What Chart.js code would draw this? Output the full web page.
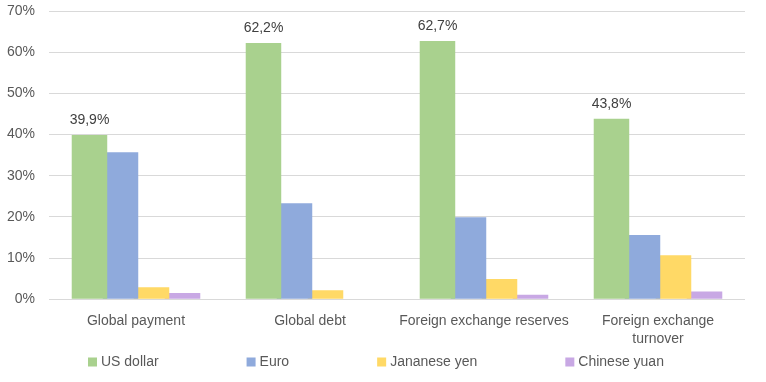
<!DOCTYPE html>
<html><head><meta charset="utf-8">
<script src="https://cdn.jsdelivr.net/npm/chart.js@4/dist/chart.umd.min.js"></script>
<style>html,body{margin:0;padding:0;background:#fff}#wrap{width:766px;height:382px}</style>
</head><body><div id="wrap"><canvas id="c" width="766" height="382"></canvas></div>
<script>
const categories = ["Global payment", "Global debt", "Foreign exchange reserves", ["Foreign exchange", "turnover"]];
const seriesNames = ["US dollar", "Euro", "Jananese yen", "Chinese yuan"];
const usDollar = [39.9, 62.2, 62.7, 43.8];
const euro = [35.7, 23.3, 19.9, 15.6];
const yen = [2.9, 2.2, 4.9, 10.7];
const yuan = [1.5, 0, 1.1, 1.9];
const colors = ["#A9D18E", "#8FAADC", "#FFD966", "#C8A8E4"];
const yTicks = [0, 10, 20, 30, 40, 50, 60, 70];

const FONT = "'Liberation Sans', Arial, sans-serif";
const TXT = "#595959";

const dataLabelPlugin = {
  id: 'dataLabels',
  afterDatasetsDraw(chart) {
    const ctx = chart.ctx;
    const meta = chart.getDatasetMeta(0);
    ctx.save();
    ctx.font = "14px " + FONT;
    ctx.fillStyle = "#404040";
    ctx.textAlign = "center";
    ctx.textBaseline = "middle";
    meta.data.forEach((bar, i) => {
      const v = chart.data.datasets[0].data[i];
      ctx.fillText(v.toFixed(1).replace('.', ',') + '%', bar.x, bar.y - 15);
    });
    ctx.restore();
  }
};

const legendPlugin = {
  id: 'customLegend',
  afterDraw(chart) {
    const ctx = chart.ctx;
    ctx.save();
    ctx.font = "14px " + FONT;
    ctx.textBaseline = "middle";
    let x = 88;
    const y = 362;
    chart.data.datasets.forEach(ds => {
      ctx.fillStyle = ds.backgroundColor;
      ctx.fillRect(x, y - 4.5, 9, 9);
      ctx.fillStyle = TXT;
      ctx.textAlign = "left";
      ctx.fillText(ds.label, x + 13, y);
      x += 13 + ctx.measureText(ds.label).width + 88;
    });
    ctx.restore();
  }
};

const seriesData = [usDollar, euro, yen, yuan];
new Chart(document.getElementById('c'), {
  type: 'bar',
  data: {
    labels: categories,
    datasets: seriesNames.map((n, i) => ({
      label: n,
      data: seriesData[i],
      backgroundColor: colors[i],
      borderWidth: 0,
      barPercentage: 1.145,
      categoryPercentage: 0.713
    }))
  },
  options: {
    responsive: false,
    animation: false,
    layout: { padding: { left: 0, right: 21, top: 11, bottom: 21 } },
    plugins: { legend: { display: false }, tooltip: { enabled: false } },
    scales: {
      x: {
        grid: { display: false, drawTicks: false },
        border: { display: false },
        afterFit(scale) { scale.paddingLeft = 0; scale.paddingRight = 0; },
        ticks: { color: TXT, font: { family: FONT, size: 14, lineHeight: 1.35 }, padding: 12, maxRotation: 0 }
      },
      y: {
        min: 0, max: 70,
        afterFit(scale) { scale.width = 49; scale.paddingTop = 0; scale.paddingBottom = 0; },
        afterBuildTicks(scale) { scale.ticks = yTicks.map(v => ({ value: v })); },
        grid: { color: "#D9D9D9", drawTicks: false, lineWidth: 1 },
        border: { display: false },
        ticks: { color: TXT, font: { family: FONT, size: 14 }, padding: 14, callback: v => v + '%' }
      }
    }
  },
  plugins: [dataLabelPlugin, legendPlugin]
});
</script></body></html>
